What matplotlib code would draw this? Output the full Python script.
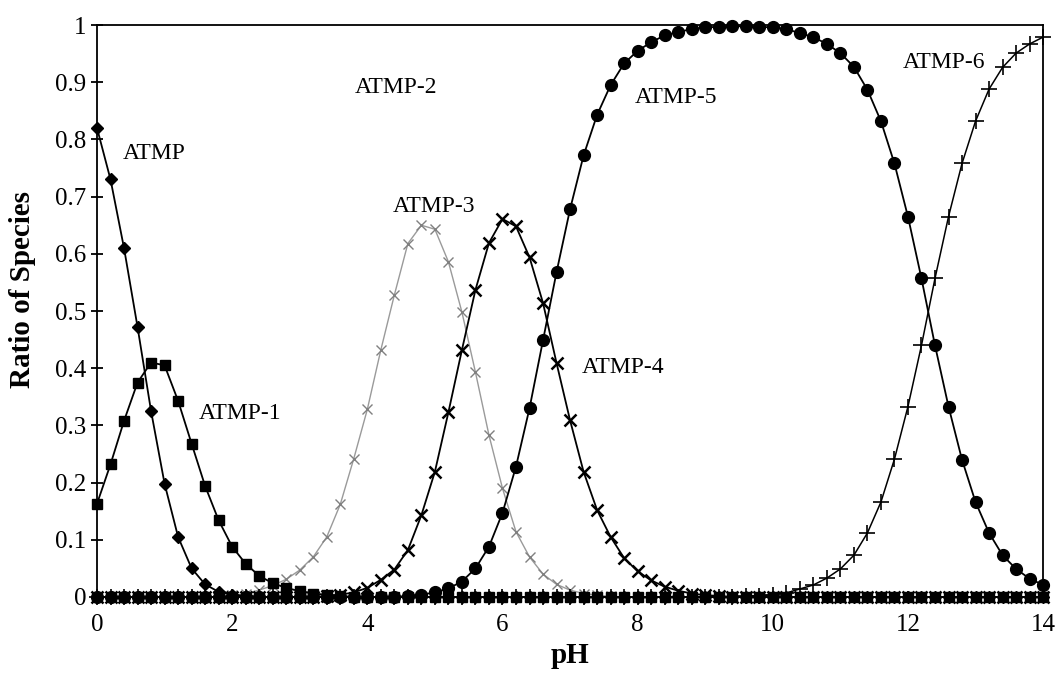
import numpy as np
import matplotlib
matplotlib.use("Agg")
import matplotlib.pyplot as plt

plt.rcParams['font.family'] = ['Liberation Serif', 'DejaVu Serif']

pH = np.round(np.arange(0, 14.001, 0.2), 1)

atmp = [0.82, 0.73, 0.61, 0.472, 0.325, 0.198, 0.105, 0.05, 0.022, 0.009, 0.004, 0.002] + [0.0] * 59
atmp1 = [0.163, 0.232, 0.308, 0.375, 0.41, 0.405, 0.343, 0.268, 0.194, 0.134, 0.088, 0.058,
         0.037, 0.024, 0.016, 0.01, 0.006, 0.004, 0.002] + [0.0] * 52
atmp2 = [0.0] * 71
atmp3 = [0.0] * 10 + [0.003, 0.006, 0.012, 0.02, 0.031, 0.047, 0.07, 0.105, 0.162, 0.242,
                      0.328, 0.432, 0.528, 0.618, 0.65, 0.643, 0.586, 0.498, 0.393, 0.283,
                      0.19, 0.114, 0.07, 0.04, 0.022, 0.012, 0.006, 0.003, 0.001] + [0.0] * 32
atmp4 = [0.0] * 17 + [0.002, 0.004, 0.008, 0.016, 0.03, 0.048, 0.082, 0.143, 0.219, 0.323,
                      0.432, 0.537, 0.619, 0.661, 0.648, 0.594, 0.514, 0.409, 0.309, 0.219,
                      0.152, 0.105, 0.068, 0.045, 0.029, 0.018, 0.011, 0.006, 0.003, 0.002] + [0.0] * 24
atmp5 = [0.0] * 23 + [0.002, 0.004, 0.008, 0.015, 0.027, 0.05, 0.088, 0.147, 0.228, 0.33,
                      0.449, 0.568, 0.678, 0.772, 0.843, 0.895, 0.933, 0.955, 0.97, 0.982,
                      0.988, 0.993, 0.996, 0.997, 0.998, 0.998, 0.997, 0.996, 0.993, 0.986,
                      0.979, 0.967, 0.951, 0.927, 0.887, 0.832, 0.758, 0.665, 0.557, 0.44,
                      0.333, 0.24, 0.166, 0.112, 0.073, 0.049, 0.032, 0.021]
atmp6 = [0.0] * 48 + [0.001, 0.002, 0.004, 0.007, 0.014, 0.021, 0.033, 0.049, 0.073, 0.112,
                      0.166, 0.241, 0.333, 0.44, 0.557, 0.665, 0.758, 0.832, 0.888, 0.926,
                      0.951, 0.967, 0.979]

labels = ["ATMP", "ATMP-1", "ATMP-2", "ATMP-3", "ATMP-4", "ATMP-5", "ATMP-6"]
label_pos = [(0.38, 0.775), (1.5, 0.32), (3.82, 0.89), (4.37, 0.682),
             (7.18, 0.402), (7.96, 0.874), (11.93, 0.935)]

fig = plt.figure(figsize=(10.59, 6.78), dpi=100)
ax = fig.add_axes([0.0916, 0.1195, 0.8934, 0.8435])

common = dict(clip_on=False)
ax.plot(pH, atmp2, color='#d0d0d0', lw=1.0, marker='*', ms=6, mec='#b0b0b0', mfc='#b0b0b0', **common)
ax.plot(pH, atmp3, color='#9a9a9a', lw=1.0, marker='x', ms=7, mew=1.0, mec='#808080', **common)
ax.plot(pH, atmp1, color='black', lw=1.3, marker='s', ms=7.5, **common)
ax.plot(pH, atmp, color='black', lw=1.3, marker='D', ms=6.5, **common)
ax.plot(pH, atmp4, color='black', lw=1.3, marker='x', ms=8, mew=1.8, **common)
ax.plot(pH, atmp5, color='black', lw=1.3, marker='o', ms=8.5, **common)
ax.plot(pH, atmp6, color='black', lw=1.1, marker='+', ms=11, mew=1.2, **common)

for lab, (x, y) in zip(labels, label_pos):
    ax.text(x, y, lab, fontsize=17, ha='left', va='center')

ax.set_xlim(0, 14)
ax.set_ylim(0, 1)
ax.set_xticks(np.arange(0, 15, 2))
ax.set_yticks(np.round(np.arange(0, 1.01, 0.1), 1))
ax.set_yticklabels(['0', '0.1', '0.2', '0.3', '0.4', '0.5', '0.6', '0.7', '0.8', '0.9', '1'])
ax.tick_params(axis='both', direction='inout', length=9, width=1.3, labelsize=18)
ax.tick_params(axis='x', pad=8)
ax.tick_params(axis='y', pad=3)
for s in ax.spines.values():
    s.set_linewidth(1.3)

ax.set_xlabel('pH', fontsize=21, fontweight='bold', labelpad=4)
ax.set_ylabel('Ratio of Species', fontsize=21, fontweight='bold')
ax.yaxis.set_label_coords(-0.064, 0.537)

fig.savefig('out.png', dpi=100)
